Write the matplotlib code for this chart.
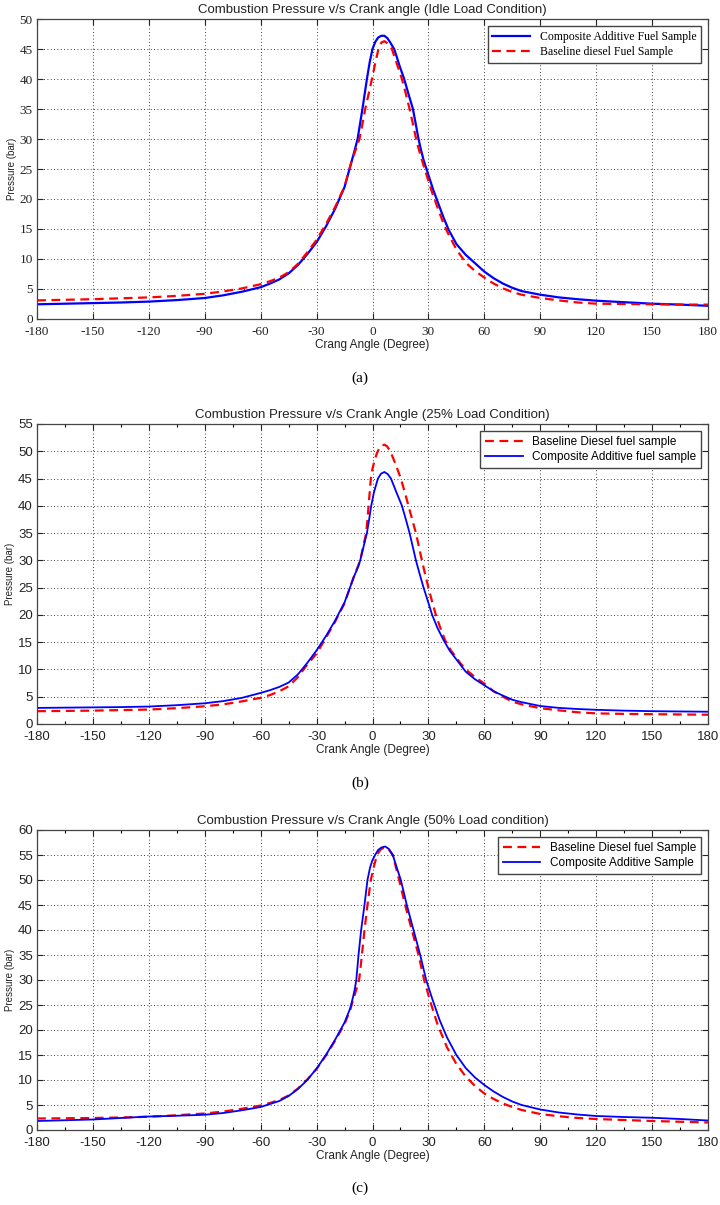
import numpy as np
import matplotlib.pyplot as plt
from matplotlib.ticker import MultipleLocator

plt.rcParams['axes.unicode_minus'] = False

# (a) idle load
deg_a_blue = [-180, -165, -150, -135, -120, -105, -90, -80, -70, -60, -55, -50, -45, -40, -35, -30, -25, -20, -15, -11,
              -9.5, -8, -6.7, -5.4, -4.2, -3, -1.5, 0, 1.5, 3, 4.7, 6.4, 8, 9.5, 11.6, 13, 14.5, 17, 19.3, 21.7, 23.2,
              24.7, 26, 27.4, 30, 32.5, 35, 38, 40.8, 45, 50, 55, 60, 65, 70, 75, 80, 90, 100, 110, 120, 135, 150, 165, 180]
p_a_blue = [2.45, 2.55, 2.65, 2.75, 2.9, 3.15, 3.5, 3.95, 4.55, 5.3, 5.9, 6.6, 7.6, 9.0, 10.8, 12.8, 15.4, 18.4, 22, 26.5,
            28.2, 30, 32.5, 35, 37.5, 40, 42.8, 45, 46.2, 46.9, 47.2, 47.2, 46.8, 46.1, 45, 43.7, 42.2, 40, 37.5, 35, 32.5,
            30, 28.2, 26.5, 24, 21.6, 19.5, 17, 14.9, 12.5, 10.7, 9.3, 7.9, 6.8, 5.9, 5.2, 4.65, 4.05, 3.6, 3.3, 3.05,
            2.8, 2.55, 2.4, 2.2]
deg_a_red = [-180, -165, -150, -135, -120, -105, -90, -80, -70, -60, -55, -50, -45, -40, -35, -30, -25, -20, -15, -11,
             -9, -7, -5.4, -3.9, -2.1, -0.3, 1.5, 3.2, 4.8, 6.4, 8.3, 10.4, 13, 15.8, 17.9, 19.9, 21.7, 23.4, 25, 26.5,
             30, 32.5, 35, 37.5, 40, 45, 50, 55, 60, 65, 70, 75, 80, 90, 100, 110, 120, 135, 150, 165, 180]
p_a_red = [3.1, 3.2, 3.3, 3.45, 3.6, 3.85, 4.2, 4.6, 5.1, 5.8, 6.3, 6.9, 7.8, 9.2, 11.1, 13.2, 15.8, 18.7, 22.1, 26.5,
           28.2, 30, 32.5, 35, 37.5, 40, 42.7, 45, 46.1, 46.3, 45.9, 45, 42.6, 40, 37.5, 35, 32.5, 30, 28.1, 26.5,
           23, 20.6, 18.5, 16.4, 14.6, 11.6, 9.4, 8.0, 6.9, 5.9, 5.1, 4.5, 4.05, 3.5, 3.1, 2.75, 2.55, 2.5, 2.45, 2.4, 2.4]

# (b) 25% load
deg_b_blue = [-180, -165, -150, -135, -120, -105, -90, -80, -70, -60, -55, -50, -45, -40, -35, -30, -25, -20, -15, -12.3,
              -10, -8.7, -7.5, -6.6, -4.8, -3, -1.8, -0.7, 0.8, 2.9, 4.6, 6.4, 8.2, 9.9, 12.8, 15.8, 17.9, 19.9, 21.6,
              23.3, 25.3, 27.4, 30, 32, 35, 38.1, 41.5, 45.3, 50, 55, 60, 65, 70, 75, 80, 90, 100, 110, 120, 135, 150,
              165, 180]
p_b_blue = [2.95, 3.0, 3.05, 3.1, 3.2, 3.45, 3.8, 4.2, 4.8, 5.7, 6.2, 6.8, 7.6, 9.1, 11.2, 13.5, 16.1, 19.0, 22.3, 24.8,
            27, 28, 29, 30, 32.5, 35, 37.5, 40, 42.5, 45, 45.9, 46.2, 45.8, 45, 42.5, 40, 37.5, 35, 32.5,
            30, 27.5, 25, 22.2, 20, 17.5, 15.4, 13.4, 11.7, 9.6, 8.2, 7.1, 6.0, 5.2, 4.45, 4.0, 3.3, 2.95, 2.75, 2.6,
            2.45, 2.35, 2.3, 2.25]
deg_b_red = [-180, -165, -150, -135, -120, -105, -90, -80, -70, -60, -55, -50, -45, -40, -35, -30, -25, -20, -15, -12.3,
             -10, -8.5, -6.6, -5, -3.4, -2.7, -2.1, -1.5, -0.9, 0, 1.1, 2.3, 3.7, 5.2, 6.5, 7.8, 9.2, 10.4, 11.6, 13.4,
             15.2, 17.3, 19.3, 21.3, 23.3, 24.9, 26.5, 28.2, 30, 32, 34, 36.4, 38.9, 42, 45, 47, 50, 55, 60, 65, 70, 75,
             80, 90, 100, 110, 120, 135, 150, 165, 180]
p_b_red = [2.35, 2.4, 2.45, 2.55, 2.65, 2.9, 3.25, 3.6, 4.15, 4.8, 5.3, 6.0, 6.9, 8.6, 10.9, 12.9, 15.8, 18.8, 22.1, 24.8,
           27, 28.3, 30, 32.5, 35, 37.5, 40, 42.5, 45, 46.8, 48.3, 49.6, 50.6, 51.1, 51.2, 50.9, 50.2, 49.3, 48.3, 46.7,
           45, 42.5, 40, 37.5, 35, 32.5, 30, 27.5, 25, 22.4, 20, 17.6, 15.4, 13.5, 12.2, 11.2, 10, 8.6, 7.4, 6.0, 5.0, 4.1,
           3.6, 2.9, 2.5, 2.15, 1.95, 1.85, 1.8, 1.75, 1.7]

# (c) 50% load
deg_c_blue = [-180, -165, -150, -135, -120, -105, -90, -80, -70, -60, -55, -50, -45, -40, -35, -30, -25, -20, -15, -12,
              -10.5, -9.5, -8.7, -8.1, -7.5, -6.8, -6.1, -5.2, -4.3, -3.5, -2.7, -1.3, 0, 1.4, 3, 4.8, 6.8, 8.8, 10.9,
              13, 15.2, 16.8, 18.4, 20.2, 22, 23.8, 25.6, 27.2, 28.8, 32, 36, 40, 45, 50, 55, 60, 65, 70, 75, 80, 90,
              100, 110, 120, 135, 150, 165, 180]
p_c_blue = [1.8, 1.95, 2.1, 2.4, 2.7, 2.85, 3.05, 3.4, 3.95, 4.6, 5.2, 5.8, 6.8, 8.2, 10.0, 12.3, 15.0, 18.1, 21.5, 24.3,
            26.5, 28.2, 30, 32.5, 35, 37.5, 40, 42.5, 45, 47.5, 50, 52.5, 54, 55, 56, 56.5, 56.7, 56.2, 55,
            52.5, 50, 47.5, 45, 42.5, 40, 37.5, 35, 32.5, 30, 26.3, 22, 18.5, 15, 12.4, 10.5, 9, 7.7, 6.6, 5.7, 5.0, 4.1,
            3.5, 3.1, 2.8, 2.6, 2.45, 2.2, 1.9]
deg_c_red = [-180, -165, -150, -135, -120, -105, -90, -80, -70, -60, -55, -50, -45, -40, -35, -30, -25, -20, -15, -12,
             -10, -8.5, -7.2, -6.4, -5.7, -5.0, -4.3, -3.5, -2.7, -1.8, -0.9, 0.6, 2.4, 4.5, 6.8, 8.9, 10.9, 12.6, 14.3,
             15.9, 17.5, 19.3, 21.1, 22.9, 24.7, 26.2, 27.7, 31, 35, 40, 45, 50, 55, 60, 65, 70, 75, 80, 90, 100, 110,
             120, 135, 150, 165, 180]
p_c_red = [2.3, 2.35, 2.4, 2.5, 2.65, 2.95, 3.3, 3.7, 4.25, 4.9, 5.4, 6.0, 6.9, 8.3, 10.1, 12.2, 14.9, 17.9, 21.2, 24,
           26.5, 28.3, 30, 32.5, 35, 37.5, 40, 42.5, 45, 47.5, 50, 52.5, 55, 56.2, 56.5, 56.0, 55, 52.5, 50,
           47.5, 45, 42.5, 40, 37.5, 35, 32.5, 30, 25.7, 21, 16.5, 13.2, 10.7, 8.8, 7.3, 6.2, 5.3, 4.6, 4.0, 3.2, 2.75, 2.4,
           2.2, 2.0, 1.8, 1.65, 1.5]

titles = ['Combustion Pressure v/s Crank angle (Idle Load Condition)',
          'Combustion Pressure v/s Crank Angle (25% Load Condition)',
          'Combustion Pressure v/s Crank Angle (50% Load condition)']
xlabels = ['Crang Angle (Degree)', 'Crank Angle (Degree)', 'Crank Angle (Degree)']
captions = ['(a)', '(b)', '(c)']
ymax = [50, 55, 60]

W, H = 720, 1205
fig = plt.figure(figsize=(W / 100, H / 100), dpi=100)

sans = 'Liberation Sans'
serif = 'Liberation Serif'


def make_axes(top_px, bottom_px):
    return fig.add_axes([37 / W, 1 - bottom_px / H, 671 / W, (bottom_px - top_px) / H])


def style(ax, i, tickfont, minor):
    ax.set_xlim(-180, 180)
    ax.set_ylim(0, ymax[i])
    ax.set_xticks(np.arange(-180, 181, 30))
    ax.set_yticks(np.arange(0, ymax[i] + 1, 5))
    if minor:
        ax.xaxis.set_minor_locator(MultipleLocator(15))
    ax.grid(True, color='black', linestyle=(0, (1, 3)), linewidth=0.6)
    ax.tick_params(direction='in', top=True, right=True, length=4, width=0.8, labelsize=9.5,
                   colors='#222222', pad=3)
    ax.tick_params(axis='x', pad=5)
    ax.tick_params(which='minor', direction='in', top=True, length=2.5, width=0.8)
    for lab in ax.get_xticklabels() + ax.get_yticklabels():
        lab.set_family(tickfont)
    for s in ax.spines.values():
        s.set_color('#444444')
        s.set_linewidth(0.9)
    ax.set_title(titles[i], fontsize=9.5, family=sans, color='#222222', pad=4)
    ax.set_xlabel(xlabels[i], fontsize=8.5, family=sans, color='#222222', labelpad=1)
    ax.set_ylabel('Pressure (bar)', fontsize=7, family=sans, color='#222222', labelpad=2)


def add_legend(ax, font):
    ax.legend(loc='upper right', prop={'family': font, 'size': 8.5}, fancybox=False, edgecolor='#444444',
              framealpha=1, borderaxespad=0.6, handlelength=3.2, labelspacing=0.3)


# (a)
ax = make_axes(19, 319)
ax.plot(deg_a_blue, p_a_blue, color='blue', lw=1.6, label='Composite Additive Fuel Sample')
ax.plot(deg_a_red, p_a_red, color='red', lw=1.6, ls=(0, (4, 2.5)), label='Baseline diesel Fuel Sample')
style(ax, 0, serif, False)
add_legend(ax, serif)

# (b)
ax = make_axes(424, 724)
ax.plot(deg_b_red, p_b_red, color='red', lw=1.6, ls=(0, (4, 2.5)), label='Baseline Diesel fuel sample')
ax.plot(deg_b_blue, p_b_blue, color='blue', lw=1.3, label='Composite Additive fuel sample')
style(ax, 1, sans, True)
add_legend(ax, sans)

# (c)
ax = make_axes(830, 1130)
ax.plot(deg_c_red, p_c_red, color='red', lw=1.6, ls=(0, (4, 2.5)), label='Baseline Diesel fuel Sample')
ax.plot(deg_c_blue, p_c_blue, color='blue', lw=1.3, label='Composite Additive Sample')
style(ax, 2, sans, True)
add_legend(ax, sans)

for cap, y in zip(captions, [378, 783, 1188]):
    fig.text(0.5, 1 - y / H, cap, ha='center', va='center', fontsize=11, family=serif)

fig.savefig('out.png', dpi=100)
